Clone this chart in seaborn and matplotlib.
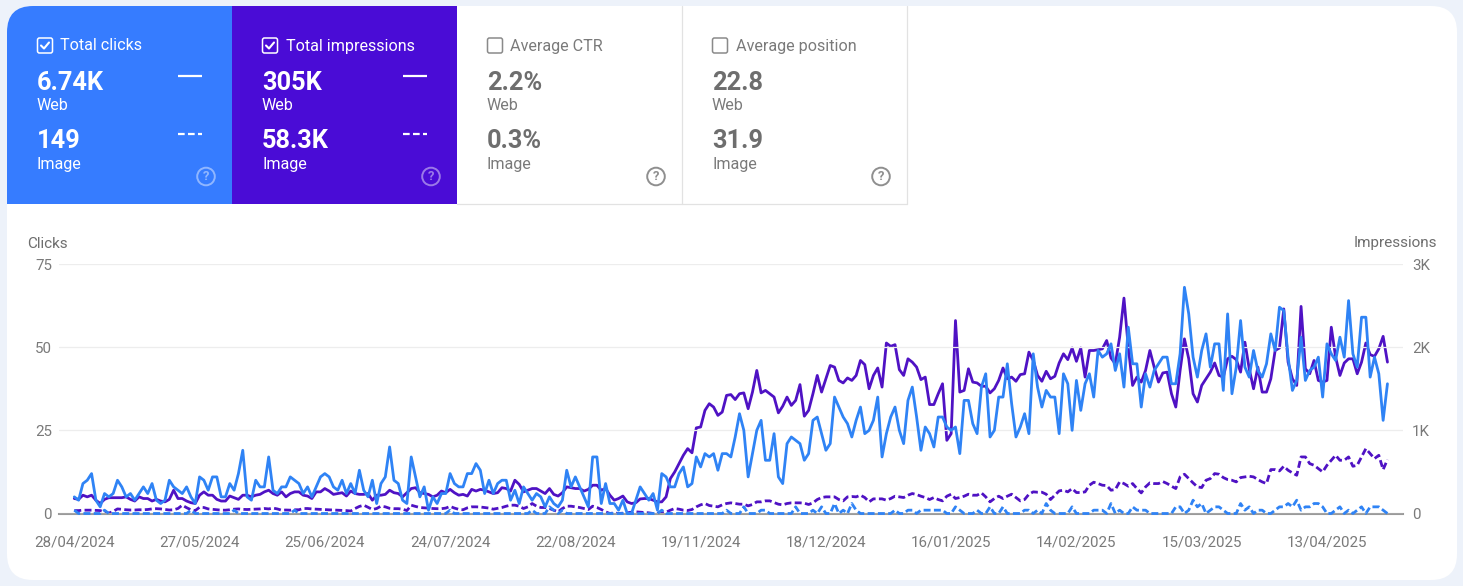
import matplotlib
matplotlib.use("Agg")
import matplotlib.pyplot as plt
from matplotlib.patches import Circle, FancyBboxPatch, Rectangle
import pandas as pd
import seaborn as sns

# values, one point per day (axis skips Aug-Nov)
clicks_web = [
    5, 4, 9, 10, 12, 4, 2, 6, 5, 6,
    10, 8, 5, 6, 4, 6, 8, 6, 9, 4,
    3, 4, 10, 8, 7, 6, 8, 5, 3, 11,
    10, 7, 11, 11, 5, 5, 9, 7, 12, 19,
    5, 4, 10, 8, 8, 17, 7, 6, 8, 8,
    11, 10, 9, 6, 8, 5, 8, 11, 12, 11,
    8, 7, 10, 6, 9, 6, 13, 7, 5, 10,
    3, 9, 11, 20, 10, 9, 4, 3, 17, 11,
    5, 8, 1, 5, 3, 6, 6, 12, 9, 8,
    8, 12, 12, 15, 13, 6, 10, 6, 9, 10,
    10, 4, 7, 3, 8, 6, 4, 6, 5, 2,
    5, 3, 2, 4, 13, 8, 11, 8, 5, 2,
    17, 17, 3, 9, 3, 3, 1, 4, 0, 0,
    4, 8, 6, 4, 6, 1, 12, 11, 8, 8,
    12, 14, 8, 9, 17, 14, 18, 17, 18, 13,
    18, 18, 17, 23, 30, 25, 11, 18, 25, 28,
    16, 16, 24, 11, 9, 21, 23, 22, 21, 16,
    18, 28, 29, 24, 19, 21, 35, 32, 29, 27,
    23, 28, 32, 24, 25, 28, 35, 17, 24, 29,
    32, 25, 21, 34, 38, 29, 19, 26, 24, 20,
    29, 29, 26, 25, 26, 18, 34, 34, 27, 24,
    38, 42, 23, 25, 35, 35, 45, 33, 23, 26,
    30, 24, 48, 38, 32, 37, 35, 35, 24, 42,
    39, 25, 40, 31, 39, 42, 35, 49, 47, 48,
    51, 43, 48, 38, 56, 45, 45, 32, 42, 38,
    43, 45, 47, 47, 39, 39, 48, 68, 60, 47,
    41, 49, 54, 44, 51, 51, 37, 60, 36, 44,
    58, 44, 41, 49, 43, 41, 45, 54, 49, 62,
    61, 47, 37, 40, 53, 40, 43, 44, 47, 35,
    51, 48, 46, 53, 47, 64, 48, 44, 59, 59,
    41, 47, 42, 28, 39,
]

clicks_image = [
    1, 0, 0, 0, 0, 0, 0, 1, 0, 0,
    0, 0, 0, 0, 0, 0, 0, 0, 0, 0,
    0, 0, 0, 0, 0, 0, 0, 1, 0, 0,
    0, 0, 0, 0, 0, 0, 0, 1, 0, 0,
    0, 0, 0, 0, 0, 0, 0, 0, 0, 0,
    0, 1, 0, 0, 0, 0, 0, 0, 0, 0,
    0, 0, 0, 0, 0, 0, 0, 0, 0, 0,
    0, 0, 0, 0, 0, 0, 0, 0, 0, 0,
    0, 0, 0, 0, 0, 0, 0, 1, 0, 0,
    0, 0, 0, 0, 0, 0, 0, 0, 0, 0,
    0, 0,
    0, 0, 0, 0, 1, 0, 0, 0, 2, 1,
    0, 1, 0, 0, 0, 0, 0, 0, 0, 0,
    0, 0, 0, 0, 0, 0, 0, 0, 0, 0,
    0, 0, 0, 0, 1, 0, 0, 0, 0, 0,
    0, 0, 0, 0, 0, 0, 0, 0, 0, 1,
    0, 0,
    0, 2, 0, 0, 0, 1, 1, 0, 0, 0,
    0, 0, 0, 2, 0, 0, 0, 1, 0, 2,
    0, 0, 3, 0, 1, 0, 3, 1, 0, 0,
    0, 0, 0, 0, 0, 0, 1, 0, 0, 1,
    1, 0, 1, 1, 1, 1, 1, 1, 0, 0,
    2,
    1, 0, 0, 0, 1, 0, 0, 2, 0, 0,
    2, 0, 0, 0, 0, 1, 1, 0, 1, 0,
    3, 1, 0, 0, 0, 0, 2, 0, 0, 0,
    0, 1, 1, 1, 0, 3, 0, 1, 0, 0,
    2, 1, 1, 1, 0, 0, 0, 0, 0,
    0, 2, 2, 0, 1, 4, 2, 3, 0, 1,
    2, 2, 1, 0, 0, 0, 3, 1, 2, 0,
    1, 1, 0, 0, 1, 2, 2, 3, 2, 4,
    1, 2, 2, 3, 3, 2, 0, 0, 1, 2,
    0, 1, 0, 1, 2, 0, 2, 2, 2, 1,
    0,
]

impressions_web = [
    180, 170, 220, 200, 220, 160, 120, 170, 190, 190,
    190, 190, 200, 170, 150, 200, 180, 180, 150, 170,
    150, 140, 170, 280, 180, 180, 150, 130, 120, 220,
    260, 220, 220, 170, 150, 150, 210, 190, 170, 220,
    220, 200, 220, 230, 260, 280, 240, 220, 260, 200,
    240, 260, 260, 220, 210, 180, 260, 260, 300, 270,
    230, 240, 250, 210, 270, 240, 230, 230, 240, 160,
    220, 220, 230, 280, 250, 240, 200, 250, 300, 310,
    250, 240, 230, 200, 220, 270, 250, 290, 250, 220,
    230, 210, 290, 270, 290, 280, 260, 240, 250, 310,
    300, 270, 400, 350, 260, 280, 300, 300, 270, 240,
    300, 230, 210, 250, 320, 310, 300, 300, 270, 290,
    340, 340, 280, 300, 220, 160, 180, 210, 140, 120,
    130, 175, 180, 180, 160, 140, 140, 200, 420, 500,
    600, 700, 780, 730, 1030, 1040, 1240, 1320, 1280, 1180,
    1220, 1420, 1430, 1370, 1440, 1450, 1260, 1460, 1720, 1450,
    1480, 1440, 1400, 1210, 1290, 1400, 1300, 1360, 1550, 1170,
    1240, 1440, 1660, 1460, 1620, 1780, 1760, 1600, 1570, 1630,
    1600, 1660, 1840, 1790, 1500, 1660, 1750, 1520, 2050, 2010,
    2030, 1730, 1660, 1860, 1820, 1760, 1610, 1640, 1310, 1310,
    1440, 1560, 880, 960, 2320, 1460, 1480, 1740, 1580, 1570,
    1530, 1530, 1450, 1500, 1600, 1750, 1620, 1640, 1590, 1670,
    1680, 1940, 1840, 1660, 1590, 1710, 1620, 1650, 1810, 1920,
    1850, 1990, 1830, 1990, 1640, 1960, 1960, 1970, 1980, 2080,
    1870, 1800, 2120, 2590, 2000, 1540, 1640, 1580, 1720, 1960,
    1760, 1580, 1690, 1700, 1440, 1280, 1720, 2100, 1860, 1440,
    1340, 1540, 1620, 1700, 1810, 1660, 1640, 1860, 1890, 1850,
    1700, 2060, 1740, 1500, 1760, 1460, 1460, 1620, 1960, 1990,
    2460, 1820, 1620, 1540, 2490, 1740, 1680, 1840, 1600, 1580,
    1600, 2240, 1880, 1660, 1810, 1860, 1860, 1680, 1820, 2050,
    1910, 1890, 1980, 2130, 1820,
]

impressions_image = [
    35, 35, 40, 40, 40, 38, 35, 20, 5, 25,
    55, 50, 45, 42, 42, 45, 45, 48, 55, 58,
    55, 48, 42, 45, 60, 100, 70, 45, 35, 75,
    72, 55, 50, 45, 40, 40, 45, 52, 55, 50,
    48, 50, 52, 55, 60, 55, 65, 55, 40, 42,
    40, 45, 45, 60, 60, 55, 52, 50, 46, 44,
    42, 40, 38, 35, 30, 60, 85, 100, 75, 48,
    60, 88, 80, 62, 58, 58, 52, 35, 100, 85,
    72, 68, 65, 60, 58, 58, 65, 85, 65, 50,
    45, 68, 80, 80, 78, 72, 65, 52, 62, 72,
    88, 100, 100, 88, 60, 80, 120, 88, 72, 72,
    60, 40, 20, 60, 88, 88, 80, 72, 60, 48,
    88, 72, 48, 20, 0, 8, 0, 4, 8, 16,
    20, 16, 12, 8, 0, 4, 8, 16, 40, 60,
    52, 40, 36, 48, 80, 104, 120, 96, 88, 80,
    104, 120, 128, 120, 112, 112, 92, 108, 140, 140,
    152, 152, 132, 112, 104, 120, 128, 128, 128, 124,
    108, 128, 168, 192, 200, 200, 200, 168, 152, 200,
    204, 200, 220, 192, 140, 176, 176, 176, 160, 180,
    208, 200, 192, 220, 240, 228, 208, 192, 168, 192,
    168, 152, 208, 232, 180, 192, 208, 232, 220, 220,
    248, 200, 140, 180, 208, 180, 208, 232, 192, 152,
    168, 232, 260, 256, 256, 232, 168, 220, 272, 280,
    260, 300, 252, 252, 260, 340, 376, 360, 340, 336,
    280, 288, 380, 360, 328, 360, 300, 248, 320, 368,
    360, 360, 384, 360, 328, 300, 440, 472, 420, 368,
    320, 312, 400, 420, 480, 472, 432, 408, 400, 380,
    432, 440, 448, 440, 408, 380, 360, 528, 528, 512,
    568, 520, 488, 460, 680, 680, 600, 580, 540, 500,
    580, 640, 700, 640, 640, 680, 568, 580, 680, 780,
    720, 660, 700, 528, 648,
]

date_labels = ["28/04/2024", "27/05/2024", "25/06/2024", "24/07/2024", "22/08/2024",
               "19/11/2024", "18/12/2024", "16/01/2025", "14/02/2025", "15/03/2025",
               "13/04/2025"]
clicks_ticks = [0, 25, 50, 75]
impressions_ticks = [0, 1000, 2000, 3000]
impressions_tick_labels = ["0", "1K", "2K", "3K"]

card_titles = ["Total clicks", "Total impressions", "Average CTR", "Average position"]
card_web = ["6.74K", "305K", "2.2%", "22.8"]
card_image = ["149", "58.3K", "0.3%", "31.9"]

W, H = 1463, 586
BG = "#EDF2FA"
BLUE_CARD = "#367CFF"
PURPLE_CARD = "#4A0CD6"
BLUE_LINE = "#2F83F5"
PURPLE_LINE = "#4F12C4"
GREY_TEXT = "#6E6E6E"
GREY_LABEL = "#7A7A7A"
BORDER = "#E2E2E2"

df = pd.DataFrame({
    "day": range(len(clicks_web)),
    "clicks_web": clicks_web,
    "clicks_image": clicks_image,
    "impressions_web": impressions_web,
    "impressions_image": impressions_image,
})

sns.set_theme(style="white")
plt.rcParams["font.family"] = ["Roboto", "DejaVu Sans"]

fig = plt.figure(figsize=(W / 100, H / 100), dpi=100, facecolor=BG)

# page furniture lives on a full size axes in pixel coords
bg = fig.add_axes([0, 0, 1, 1], zorder=0)
bg.set_xlim(0, W)
bg.set_ylim(H, 0)
bg.axis("off")

panel = FancyBboxPatch((7 + 26, 6 + 26), 1450 - 52, 574 - 52, boxstyle="round,pad=26,rounding_size=26",
                       fc="white", ec="none", zorder=1)
bg.add_patch(panel)


def draw_card(i, x0, fill):
    on = fill is not None
    if on:
        r = Rectangle((x0, 6), 225, 198, fc=fill, ec="none", zorder=2)
        bg.add_patch(r)
        r.set_clip_path(panel)
    main = "white" if on else GREY_TEXT
    label = "white" if on else GREY_LABEL
    box = "white" if on else "#8A8A8A"

    bg.add_patch(FancyBboxPatch((x0 + 31.5, 39), 13, 13, boxstyle="round,pad=1,rounding_size=2",
                                fc="none", ec=box, lw=1.1, zorder=3))
    if on:
        bg.plot([x0 + 34, x0 + 37, x0 + 42], [45.5, 48.5, 42.5], color="white", lw=1.5, zorder=4)

    # baselines rather than centres, descenders otherwise shift the rows
    bg.text(x0 + 53.5, 50.5, card_titles[i], color=label, fontsize=11.6, va="baseline", ha="left", zorder=4)
    bg.text(x0 + 30, 89.5, card_web[i], color=main, fontsize=18.3, fontweight="bold", va="baseline", ha="left", zorder=4)
    bg.text(x0 + 30, 110.5, "Web", color=label, fontsize=11.6, va="baseline", ha="left", zorder=4)
    bg.text(x0 + 30, 147.5, card_image[i], color=main, fontsize=18.3, fontweight="bold", va="baseline", ha="left", zorder=4)
    bg.text(x0 + 30, 168.5, "Image", color=label, fontsize=11.6, va="baseline", ha="left", zorder=4)

    if on:
        bg.plot([x0 + 171, x0 + 195], [76, 76], color="white", lw=1.6, solid_capstyle="butt", zorder=4)
        bg.plot([x0 + 171, x0 + 195], [134, 134], color="white", lw=1.6, zorder=4, dashes=(3, 1.5),
                dash_capstyle="butt")

    help_col = "#FFFFFF" if on else "#8F8F8F"
    help_alpha = 0.45 if on else 1.0
    bg.add_patch(Circle((x0 + 199, 176.5), 8.8, fc="none", ec=help_col, lw=1.4, alpha=help_alpha, zorder=4))
    bg.text(x0 + 199, 176.5, "?", color=help_col, alpha=help_alpha, fontsize=9.5, fontweight="bold",
            ha="center", va="center", zorder=4)


for i, (x0, fill) in enumerate(zip([7, 232, 457, 682], [BLUE_CARD, PURPLE_CARD, None, None])):
    draw_card(i, x0, fill)

# thin borders round the two unselected cards
bg.plot([457, 906.5], [203.5, 203.5], color=BORDER, lw=0.9, zorder=3)
bg.plot([681.5, 681.5], [6, 204], color=BORDER, lw=0.9, zorder=3)
bg.plot([906.5, 906.5], [6, 204], color=BORDER, lw=0.9, zorder=3)

bg.text(27, 247.5, "Clicks", color=GREY_TEXT, fontsize=11, va="baseline", ha="left", zorder=4)
bg.text(1437, 247.5, "Impressions", color=GREY_TEXT, fontsize=11, va="baseline", ha="right", zorder=4)

# chart, clicks on left axis sits on top of impressions on the twin
plot_left, plot_right, plot_top, plot_bottom = 59, 1403, 264, 513.5
ax = fig.add_axes([plot_left / W, (H - plot_bottom) / H, (plot_right - plot_left) / W, (plot_bottom - plot_top) / H],
                  zorder=3)
ax2 = ax.twinx()
ax.set_zorder(3)
ax2.set_zorder(2)
ax.patch.set_visible(False)
ax2.patch.set_visible(False)

LW = 2.0
DASH = (2.5, 1.2)

sns.lineplot(data=df, x="day", y="impressions_web", ax=ax2, color=PURPLE_LINE, linewidth=LW, clip_on=False)
l = sns.lineplot(data=df, x="day", y="impressions_image", ax=ax2, color=PURPLE_LINE, linewidth=LW, clip_on=False)
l.lines[-1].set_dashes(DASH)
sns.lineplot(data=df, x="day", y="clicks_web", ax=ax, color=BLUE_LINE, linewidth=LW, clip_on=False)
l = sns.lineplot(data=df, x="day", y="clicks_image", ax=ax, color=BLUE_LINE, linewidth=LW, clip_on=False)
l.lines[-1].set_dashes(DASH)

ax.set_xlim(-3.54, 307.6)
ax.set_ylim(0, 75)
ax2.set_ylim(0, 3000)

ax.set_xticks(range(0, 29 * len(date_labels), 29))
ax.set_xticklabels(date_labels)
ax.set_yticks(clicks_ticks)
ax2.set_yticks(impressions_ticks)
ax2.set_yticklabels(impressions_tick_labels)

ax.set_xlabel("")
ax.set_ylabel("")
ax2.set_ylabel("")
ax.tick_params(axis="x", length=0, pad=15.5, labelsize=10.9, labelcolor=GREY_LABEL)
ax.tick_params(axis="y", length=0, pad=5, labelsize=10.9, labelcolor=GREY_LABEL)
ax2.tick_params(axis="y", length=0, pad=6.5, labelsize=10.9, labelcolor=GREY_LABEL)

ax.grid(axis="y", color="#EDEDED", linewidth=0.9)
ax.set_axisbelow(True)
ax2.grid(False)
for a in (ax, ax2):
    for name in ("top", "left", "right", "bottom"):
        a.spines[name].set_visible(False)
ax2.spines["bottom"].set_visible(True)
ax2.spines["bottom"].set_color("#9A9A9A")
ax2.spines["bottom"].set_linewidth(1.5)

fig.savefig("out.png", dpi=100, facecolor=BG)
